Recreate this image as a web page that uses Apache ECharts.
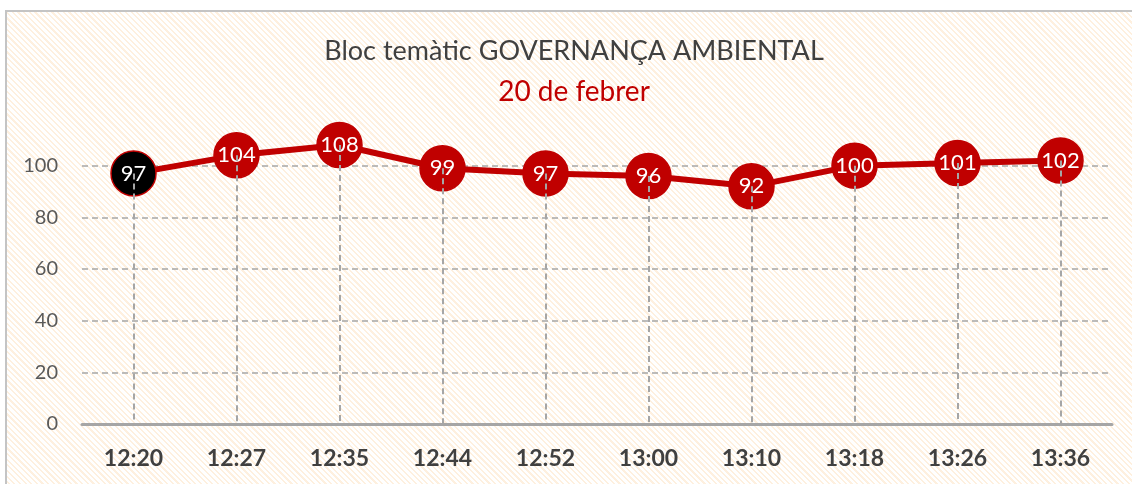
<!DOCTYPE html>
<html>
<head>
<meta charset="utf-8">
<script src="https://cdn.jsdelivr.net/npm/echarts@6/dist/echarts.min.js"></script>
<style>
  html, body { margin: 0; padding: 0; width: 1132px; height: 484px; overflow: hidden; background: #fff; }
  #chart {
    position: absolute; left: 5px; top: 10px;
    width: 1134px; height: 480px;
    border-left: 2px solid #c4c4c4; border-top: 2px solid #c4c4c4;
    background: repeating-linear-gradient(45deg, #ffffff 0px, #ffffff 2.4px, #fef0df 2.4px, #fef0df 4px);
  }
</style>
</head>
<body>
<div id="chart"></div>
<script>
// chart data
var times = ['12:20', '12:27', '12:35', '12:44', '12:52', '13:00', '13:10', '13:18', '13:26', '13:36'];
var values = [97, 104, 108, 99, 97, 96, 92, 100, 101, 102];
var yTicks = [0, 20, 40, 60, 80, 100, 120];

var titleText = 'Bloc temàtic GOVERNANÇA AMBIENTAL';
var subText = '20 de febrer';

var red = '#c00000';
var grey = '#a6a6a6';
var font = 'Lato, "Open Sans", sans-serif';

var seriesData = values.map(function (v, i) {
  if (i === 0) {
    return { value: v, itemStyle: { color: '#000', borderColor: red } };
  }
  return v;
});

// dashed drop lines from every point down to the axis
var dropLines = values.map(function (v, i) {
  return [{ coord: [i, v] }, { coord: [i, 0] }];
});

// hide the split line at the top tick (120)
var splitColors = yTicks.map(function (t, i) {
  return i === yTicks.length - 1 ? 'rgba(0,0,0,0)' : grey;
});

var option = {
  backgroundColor: 'transparent',
  animation: false,
  title: [{
    text: titleText,
    left: 'center',
    top: 21,
    textStyle: { color: '#404040', fontSize: 27, fontWeight: 'normal', fontFamily: font }
  }, {
    text: subText,
    left: 'center',
    top: 61,
    textStyle: { color: red, fontSize: 28, fontWeight: 'normal', fontFamily: font }
  }],
  grid: {
    left: 75,
    width: 1030,
    top: 102,
    height: 310
  },
  xAxis: {
    type: 'category',
    data: times,
    boundaryGap: true,
    axisLine: { lineStyle: { color: grey, width: 3 } },
    axisTick: { show: false },
    splitLine: { show: false },
    axisLabel: {
      margin: 23,
      color: '#404040',
      fontSize: 23,
      fontWeight: 'bold',
      fontFamily: font
    }
  },
  yAxis: {
    type: 'value',
    min: 0,
    max: 120,
    interval: 20,
    axisLine: { show: false },
    axisTick: { show: false },
    axisLabel: {
      showMaxLabel: false,
      margin: 24,
      color: '#595959',
      fontSize: 20,
      fontFamily: font
    },
    splitLine: {
      show: true,
      lineStyle: { color: splitColors, width: 1.5, type: [6, 4] }
    }
  },
  series: [{
    type: 'line',
    data: seriesData,
    symbol: 'circle',
    symbolSize: 45,
    lineStyle: { color: red, width: 6 },
    itemStyle: { color: red, borderColor: red, borderWidth: 1.5 },
    label: {
      show: true,
      position: 'inside',
      color: '#fff',
      fontSize: 22,
      fontFamily: font
    },
    markLine: {
      silent: true,
      symbol: ['none', 'none'],
      label: { show: false },
      lineStyle: { color: grey, width: 2, type: [6, 4] },
      data: dropLines
    }
  }]
};

var chart = echarts.init(document.getElementById('chart'));
chart.setOption(option);
</script>
</body>
</html>
